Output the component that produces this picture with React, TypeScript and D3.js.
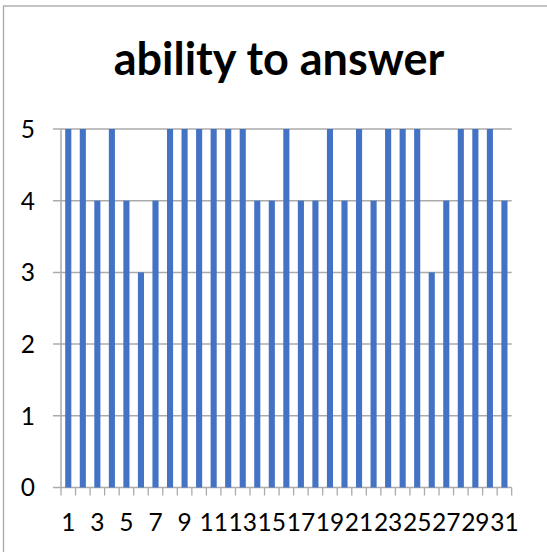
import React from "react";
import * as d3 from "d3";

const categories: string[] = Array.from({ length: 31 }, (_, i) => String(i + 1));
const values: number[] = [5, 5, 4, 5, 4, 3, 4, 5, 5, 5, 5, 5, 5, 4, 4, 5, 4, 4, 5, 4, 5, 4, 5, 5, 5, 3, 4, 5, 5, 5, 4];
const yTicks: number[] = [0, 1, 2, 3, 4, 5];
const title = "ability to answer";

const W = 547;
const H = 552;
const plot = { left: 61, right: 511.7, top: 129, bottom: 487.5 };
const gridColor = "#ABABAB";
const barColor = "#4472C4";
const font = "Lato, 'Open Sans', sans-serif";

export default function App() {
  const x = d3.scaleBand<string>().domain(categories).range([plot.left, plot.right]).paddingInner(0).paddingOuter(0);
  const y = d3.scaleLinear().domain([0, 5]).range([plot.bottom, plot.top]);
  const bw = x.bandwidth();
  const barW = bw * 0.42;
  const tickXs = [...categories.map((c) => x(c)!), plot.right];

  return (
    <svg width={W} height={H} style={{ position: "absolute", left: 0, top: 0, background: "#fff" }}>
      <rect x={3.5} y={6} width={W + 20} height={H + 20} fill="#fff" stroke="#A6A6A6" strokeWidth={1.3} />
      <text x={279} y={75} textAnchor="middle" fontFamily={font} fontWeight={700} fontSize={45} fill="#000">
        {title}
      </text>
      {yTicks.map((t) => (
        <g key={t}>
          <line x1={plot.left - 8} x2={plot.right} y1={y(t)} y2={y(t)} stroke={gridColor} strokeWidth={1.5} />
          <text x={35} y={y(t)} dy="0.36em" textAnchor="end" fontFamily={font} fontSize={24.5} fill="#000">
            {t}
          </text>
        </g>
      ))}
      <line x1={plot.left} x2={plot.left} y1={plot.top} y2={plot.bottom} stroke={gridColor} strokeWidth={1.5} />
      {tickXs.map((tx, i) => (
        <line key={i} x1={tx} x2={tx} y1={plot.bottom} y2={plot.bottom + 8} stroke={gridColor} strokeWidth={1.3} />
      ))}
      {categories.map((c, i) => (
        <rect
          key={c}
          x={x(c)! + (bw - barW) / 2}
          y={y(values[i])}
          width={barW}
          height={y(0) - y(values[i])}
          fill={barColor}
        />
      ))}
      {categories.map((c, i) =>
        i % 2 === 0 ? (
          <text key={c} x={x(c)! + bw / 2} y={531} textAnchor="middle" fontFamily={font} fontSize={24.5} fill="#000">
            {c}
          </text>
        ) : null
      )}
    </svg>
  );
}
